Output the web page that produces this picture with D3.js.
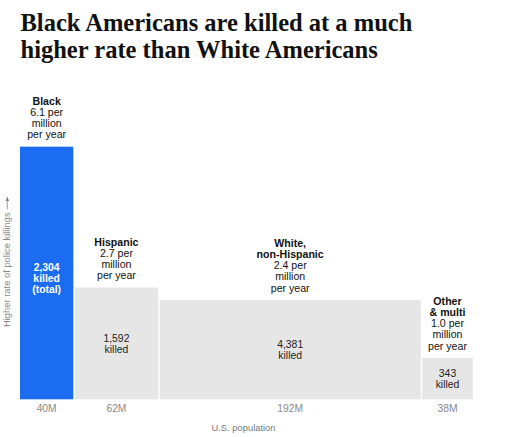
<!DOCTYPE html>
<html>
<head>
<meta charset="utf-8">
<script src="https://cdn.jsdelivr.net/npm/d3@7"></script>
<style>
  html, body { margin: 0; padding: 0; background: #fff; }
  svg { display: block; }
</style>
</head>
<body>
<script>
// ---- data ----
const groups = ["Black", "Hispanic", "White, non-Hispanic", "Other & multi"];
const groupLines = [["Black"], ["Hispanic"], ["White,", "non-Hispanic"], ["Other", "& multi"]];
const population = [40, 62, 192, 38];          // millions
const ratePerMillion = [6.1, 2.7, 2.4, 1.0];   // killed per million per year
const killed = [2304, 1592, 4381, 343];
const popLabels = ["40M", "62M", "192M", "38M"];
const highlight = [true, false, false, false];

const W = 511, H = 437;
const svg = d3.select("body").append("svg").attr("width", W).attr("height", H);

// title
const title = svg.append("g").attr("font-family", "'Liberation Serif', 'Times New Roman', Times, serif")
  .attr("font-weight", "bold").attr("fill", "#111");
const t1 = title.append("text").attr("x", 20.5).attr("y", 30.5).attr("font-size", 25)
  .text("Black Americans are killed at a much");
const t2 = title.append("text").attr("x", 20.5).attr("y", 58).attr("font-size", 25)
  .text("higher rate than White Americans");
const w1 = t1.node().getComputedTextLength();
const fs = 25 * 392 / w1;
t1.attr("font-size", fs); t2.attr("font-size", fs);

// scales
const cum = [0];
population.forEach((p, i) => cum.push(cum[i] + p));
const x = d3.scaleLinear().domain([0, cum[cum.length - 1]]).range([20, 474.2]);
const y = d3.scaleLinear().domain([0, 6.1]).range([399.3, 146.7]);
const gap = 1.4;

const data = groups.map((g, i) => ({
  g, lines: groupLines[i], pop: population[i], rate: ratePerMillion[i], killed: killed[i],
  popLabel: popLabels[i], hi: highlight[i], x0: x(cum[i]), x1: x(cum[i + 1]) - gap
}));

const sans = "'Liberation Sans', Arial, sans-serif";

// bars
svg.append("g").selectAll("rect").data(data).join("rect")
  .attr("x", d => d.x0).attr("width", d => d.x1 - d.x0)
  .attr("y", d => y(d.rate)).attr("height", d => y(0) - y(d.rate))
  .attr("fill", d => d.hi ? "#1c6cf2" : "#e6e6e6");

// labels above bars
const lh = 11.2;
data.forEach(d => {
  const cx = (d.x0 + d.x1) / 2;
  const lines = d.lines.map(t => ({ t, b: true }))
    .concat([{ t: d3.format(".1f")(d.rate) + " per", b: false }, { t: "million", b: false }, { t: "per year", b: false }]);
  const baseLast = y(d.rate) - 8.3;
  const n = lines.length;
  svg.append("g").selectAll("text").data(lines).join("text")
    .attr("x", cx).attr("y", (l, j) => baseLast - (n - 1 - j) * lh)
    .attr("text-anchor", "middle").attr("font-family", sans)
    .attr("font-size", 10.6).attr("font-weight", l => l.b ? "bold" : "normal")
    .attr("fill", "#111").text(l => l.t);

  // inside labels
  const cy = (y(d.rate) + y(0)) / 2;
  const inLines = [d3.format(",")(d.killed), "killed"].concat(d.hi ? ["(total)"] : []);
  svg.append("g").selectAll("text").data(inLines).join("text")
    .attr("x", cx).attr("y", (l, j) => cy - 1.6 + j * 10.9)
    .attr("text-anchor", "middle").attr("font-family", sans)
    .attr("font-size", 10.4).attr("font-weight", d.hi ? "bold" : "normal")
    .attr("fill", d.hi ? "#fff" : "#222").text(l => l);

  // population tick labels
  svg.append("text").attr("x", cx).attr("y", 412)
    .attr("text-anchor", "middle").attr("font-family", sans).attr("font-size", 10.3)
    .attr("fill", "#888").text(d.popLabel);
});

// x axis title
svg.append("text").attr("x", 243.5).attr("y", 431)
  .attr("text-anchor", "middle").attr("font-family", sans).attr("font-size", 9.4)
  .attr("fill", "#777").text("U.S. population");

// y axis title
const yt = svg.append("g").attr("transform", "translate(10.3,262) rotate(-90)");
const ytxt = yt.append("text").attr("x", -65).attr("y", 0)
  .attr("font-family", sans).attr("font-size", 9.4).attr("fill", "#888")
  .text("Higher rate of police killings");
const tw = ytxt.node().getComputedTextLength();
yt.append("line").attr("x1", -65 + tw + 3).attr("x2", 65).attr("y1", -3).attr("y2", -3)
  .attr("stroke", "#888").attr("stroke-width", 0.8);
yt.append("path").attr("d", "M65,-3 L61,-5 L61,-1 Z").attr("fill", "#888");
</script>
</body>
</html>
